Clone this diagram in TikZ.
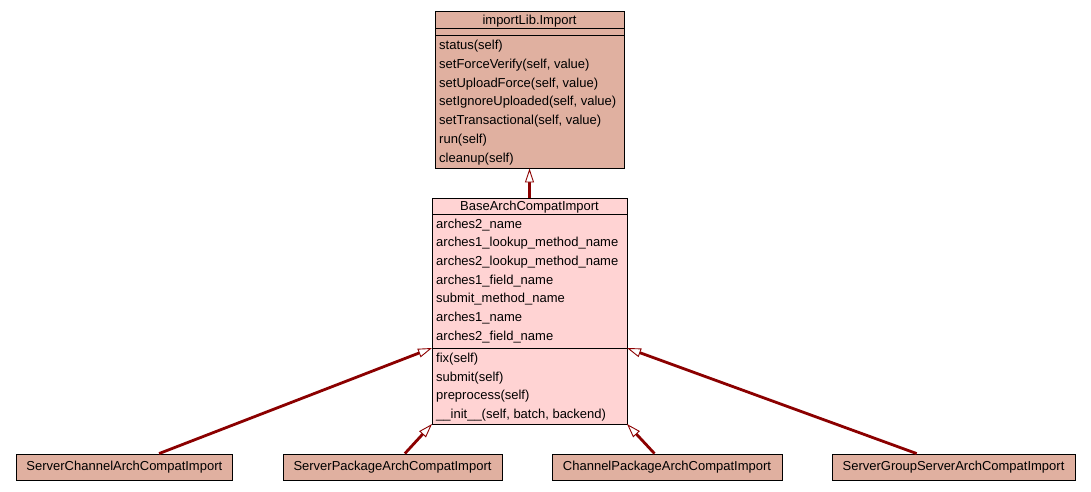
\documentclass[tikz,border=0pt]{standalone}
\usepackage{fontspec}
\setmainfont{Liberation Sans}
\usetikzlibrary{arrows.meta}
\definecolor{impfill}{RGB}{224,176,160}
\definecolor{basefill}{RGB}{255,211,211}
\definecolor{inhred}{RGB}{139,0,0}
\tikzstyle{clsbox}=[draw=black,line width=0.9pt,rectangle,inner sep=0pt,font=\fontsize{13}{15}\selectfont]
\tikzstyle{member}=[anchor=west,inner sep=0pt,font=\fontsize{13}{15}\selectfont,text height=9.5pt,text depth=2.5pt]
\tikzstyle{clsname}=[inner sep=0pt,font=\fontsize{13}{15}\selectfont,text height=9.5pt,text depth=2.5pt]
\tikzstyle{inh}=[draw=inhred,line width=2.8pt,-{Triangle[fill=white,length=14pt,width=9pt,line width=0.9pt]}]

\begin{document}
\begin{tikzpicture}[x=1pt,y=-1pt]
    \useasboundingbox (0,0) rectangle (1091,491);
    % classes
    \node[clsbox,fill=impfill,minimum width=189pt,minimum height=156.3pt] (imp) at (529.5,89.85) {};
    \node[clsbox,fill=basefill,minimum width=195pt,minimum height=226pt] (base) at (529.5,311) {};
    \node[clsbox,fill=impfill,minimum width=215.3pt,minimum height=26pt] (b1) at (124.35,467) {ServerChannelArchCompatImport};
    \node[clsbox,fill=impfill,minimum width=219pt,minimum height=26pt] (b2) at (392.5,467) {ServerPackageArchCompatImport};
    \node[clsbox,fill=impfill,minimum width=230pt,minimum height=26pt] (b3) at (667,467) {ChannelPackageArchCompatImport};
    \node[clsbox,fill=impfill,minimum width=243pt,minimum height=26pt] (b4) at (953.5,467) {ServerGroupServerArchCompatImport};

    % importLib.Import
    \node[clsname] (impname) at (529.5,20.5) {importLib.Import};
    \draw[line width=0.9pt] (435,28) -- (624,28);
    \draw[line width=0.9pt] (435,35) -- (624,35);
    \foreach \t [count=\i] in {status(self), {setForceVerify(self, value)}, {setUploadForce(self, value)},
        {setIgnoreUploaded(self, value)}, {setTransactional(self, value)}, run(self), cleanup(self)}
    \node[member] (impm\i) at (439,46.3+18.7*\i-18.7) {\t};

    % BaseArchCompatImport
    \node[clsname] (basename) at (529.5,207) {BaseArchCompatImport};
    \draw[line width=0.9pt] (432,214) -- (627,214);
    \draw[line width=0.9pt] (432,348) -- (627,348);
    \foreach \t [count=\i] in {arches2\_name, arches1\_lookup\_method\_name, arches2\_lookup\_method\_name,
        arches1\_field\_name, submit\_method\_name, arches1\_name, arches2\_field\_name}
    \node[member] (basea\i) at (436,224.5+18.67*\i-18.67) {\t};
    \foreach \t [count=\i] in {fix(self), submit(self), preprocess(self), {\_\_init\_\_(self, batch, backend)}}
    \node[member] (basem\i) at (436,359+18.5*\i-18.5) {\t};

    % inheritance
    \coordinate (baseL) at (432,348);
    \coordinate (baseSW) at (432,424);
    \coordinate (baseSE) at (627,424);
    \coordinate (baseR) at (627,348);
    \foreach \from/\to in {b1/baseL,b2/baseSW,b3/baseSE,b4/baseR,base/imp}
    \draw[inh] (\from) -- (\to);
\end{tikzpicture}
\end{document}
